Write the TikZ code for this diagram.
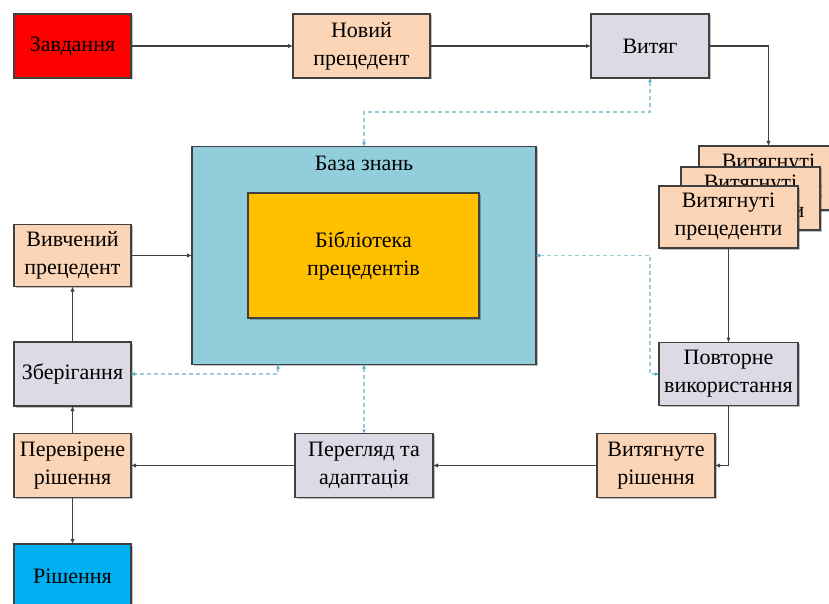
\documentclass[tikz,border=0pt]{standalone}
\usepackage{fontspec}
\setmainfont{Liberation Serif}
\usetikzlibrary{arrows.meta,shadows}
\definecolor{cred}{HTML}{FF0000}
\definecolor{cpeach}{HTML}{FBD5B5}
\definecolor{clav}{HTML}{DDD9E5}
\definecolor{cteal}{HTML}{92CDDC}
\definecolor{corange}{HTML}{FFC000}
\definecolor{cblue}{HTML}{00B0F0}
\definecolor{cdash}{HTML}{9DCBD5}
\definecolor{ctip}{HTML}{4BACC6}
\definecolor{cline}{HTML}{404040}
\begin{document}
\begin{tikzpicture}[x=1pt,y=-1pt,
  box/.style={draw=cline, line width=1.8pt, minimum width=117pt, minimum height=64pt,
    inner sep=0pt, outer sep=0pt, align=center, font=\fontsize{22}{28}\selectfont,
    drop shadow={shadow xshift=1.5pt,shadow yshift=-1.5pt,fill=black,opacity=.25}},
  conn/.style={draw=cline, line width=1.8pt, -{Latex[length=5pt,width=4.5pt]}},
  dsh/.style={draw=cdash, line width=1.1pt, dash pattern=on 4pt off 3pt,
    arrows={Latex[length=4pt,width=4pt,color=ctip]-Latex[length=4pt,width=4pt,color=ctip]}}]
\useasboundingbox (0,0) rectangle (829,604);

\node[box, fill=cred] (zavd) at (72.5,46) {Завдання};
\node[box, fill=cpeach, minimum width=137pt] (novyi) at (361.5,46) {Новий\\прецедент};
\node[box, fill=clav, minimum width=118pt] (vytyag) at (650,46) {Витяг};

\node[box, fill=cpeach, minimum width=139pt] (card3) at (768.5,178) {Витягнуті\\прецеденти};
\node[box, fill=cpeach, minimum width=139pt, minimum height=63pt] (card2) at (750.5,198.5) {Витягнуті\\прецеденти};
\node[box, fill=cpeach, minimum width=139pt, minimum height=62pt] (card1) at (728.5,217) {Витягнуті\\прецеденти};

\node[box, fill=cteal, minimum width=344pt, minimum height=218pt] (kb) at (364,255.5) {};
\node[font=\fontsize{22}{28}\selectfont, inner sep=0pt] (kbt) at (364,163) {База знань};
\node[box, fill=corange, minimum width=231pt, minimum height=125pt, drop shadow={opacity=0}] (lib) at (363.5,255.5) {Бібліотека\\прецедентів};

\node[box, fill=cpeach, minimum height=62pt] (vyv) at (72.5,255.5) {Вивчений\\прецедент};
\node[box, fill=clav] (zber) at (72.5,374) {Зберігання};
\node[box, fill=cpeach] (perevir) at (72.5,465.5) {Перевірене\\рішення};
\node[box, fill=cblue] (rish) at (72.5,576) {Рішення};
\node[box, fill=clav, minimum width=138pt] (pereg) at (364,465.5) {Перегляд та\\адаптація};
\node[box, fill=cpeach, minimum width=118pt] (vytyagn) at (656,465.5) {Витягнуте\\рішення};
\node[box, fill=clav, minimum width=139pt, minimum height=63pt] (povt) at (728.5,374) {Повторне\\використання};

\draw[conn] (zavd.east) -- (novyi.west);
\draw[conn] (novyi.east) -- (vytyag.west);
\draw[conn] (vytyag.east) -| (card3.north);
\draw[conn] (card1.south) -- (povt.north);
\draw[conn] (povt.south) |- (vytyagn.east);
\draw[conn] (vytyagn.west) -- (pereg.east);
\draw[conn] (pereg.west) -- (perevir.east);
\draw[conn] (perevir.north) -- (zber.south);
\draw[conn] (perevir.south) -- (rish.north);
\draw[conn] (zber.north) -- (vyv.south);
\draw[conn] (vyv.east) -- (kb.west);

\coordinate (d1) at (650,112);
\coordinate (kbs1) at (278,364.5);
\coordinate (kbs2) at (364,364.5);
\coordinate (d2) at (650,255.5);
\draw[dsh] (vytyag.south) -- (d1) -| (kb.north);
\draw[dsh] (kbs1) |- (zber.east);
\draw[dsh] (kbs2) -- (pereg.north);
\draw[dsh] (kb.east) -- (d2) |- (povt.west);
\end{tikzpicture}
\end{document}
